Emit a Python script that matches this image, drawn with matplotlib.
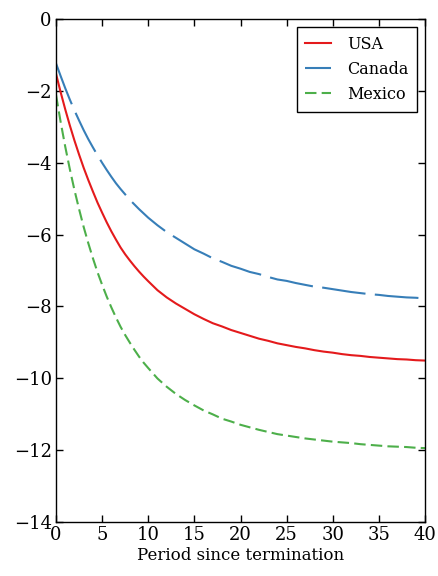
import matplotlib
matplotlib.use("Agg")
import matplotlib.pyplot as plt

# periods after the agreement ends (half steps early on, where the paths bend most)
periods = [0, 0.5, 1, 1.5, 2, 2.5, 3, 3.5, 4, 4.5, 5, 5.5, 6, 6.5, 7, 7.5, 8, 8.5, 9, 9.5,
           10, 11, 12, 13, 14, 15, 16, 17, 18, 19, 20, 21, 22, 23, 24, 25, 26, 27, 28, 29,
           30, 31, 32, 33, 34, 35, 36, 37, 38, 39, 40]

usa = [-1.52, -2.03, -2.51, -2.96, -3.38, -3.77, -4.14, -4.48, -4.80, -5.11,
       -5.39, -5.66, -5.91, -6.14, -6.36, -6.55, -6.72, -6.88, -7.03, -7.17,
       -7.30, -7.55, -7.75, -7.92, -8.07, -8.22, -8.35, -8.47, -8.56, -8.66,
       -8.74, -8.82, -8.90, -8.96, -9.03, -9.08, -9.13, -9.17, -9.22, -9.26,
       -9.29, -9.33, -9.36, -9.38, -9.41, -9.43, -9.45, -9.47, -9.48, -9.50,
       -9.51]

canada = [-1.23, -1.58, -1.92, -2.24, -2.54, -2.82, -3.09, -3.34, -3.57, -3.79,
          -4.00, -4.20, -4.39, -4.57, -4.73, -4.88, -5.03, -5.16, -5.29, -5.41,
          -5.53, -5.74, -5.93, -6.09, -6.25, -6.41, -6.53, -6.66, -6.76, -6.87,
          -6.95, -7.04, -7.10, -7.18, -7.25, -7.29, -7.35, -7.40, -7.45, -7.48,
          -7.52, -7.56, -7.60, -7.63, -7.66, -7.68, -7.71, -7.73, -7.75, -7.76,
          -7.78]

mexico = [-2.11, -2.86, -3.55, -4.18, -4.76, -5.29, -5.79, -6.24, -6.66, -7.05,
          -7.40, -7.73, -8.03, -8.31, -8.57, -8.80, -9.01, -9.21, -9.40, -9.57,
          -9.72, -10.01, -10.24, -10.44, -10.61, -10.76, -10.90, -11.01, -11.13, -11.21,
          -11.30, -11.37, -11.44, -11.50, -11.56, -11.60, -11.64, -11.68, -11.71, -11.74,
          -11.77, -11.79, -11.81, -11.84, -11.86, -11.88, -11.90, -11.91, -11.92, -11.94,
          -11.95]

plt.rcParams["font.family"] = ["DejaVu Serif"]

fig = plt.figure(figsize=(4.38, 5.76), dpi=100)
ax = fig.add_axes([0.1279, 0.0943, 0.8424, 0.8722])

ax.plot(periods, usa, color="#e41a1c", lw=1.5, label="USA")
ax.plot(periods, canada, color="#377eb8", lw=1.5, linestyle=(0, (21, 4.5)), label="Canada")
ax.plot(periods, mexico, color="#4daf4a", lw=1.5, linestyle=(0, (5.5, 2.5)), label="Mexico")

ax.set_xlim(0, 40)
ax.set_ylim(-14, 0)
ax.set_xticks(range(0, 41, 5))
ax.set_yticks(range(-14, 1, 2))
ax.tick_params(direction="in", top=True, right=True, length=5, width=1,
               labelsize=13, pad=3)
for s in ax.spines.values():
    s.set_linewidth(1.0)

ax.set_xlabel("Period since termination", fontsize=12, labelpad=2)

leg = ax.legend(loc="upper right", fontsize=11.5, handlelength=1.6,
                handletextpad=1.0, labelspacing=0.5,
                fancybox=False, framealpha=1, borderpad=0.55,
                borderaxespad=0.5)
leg.get_frame().set_edgecolor("black")
leg.get_frame().set_linewidth(1.0)

fig.savefig("out.png", dpi=100)
